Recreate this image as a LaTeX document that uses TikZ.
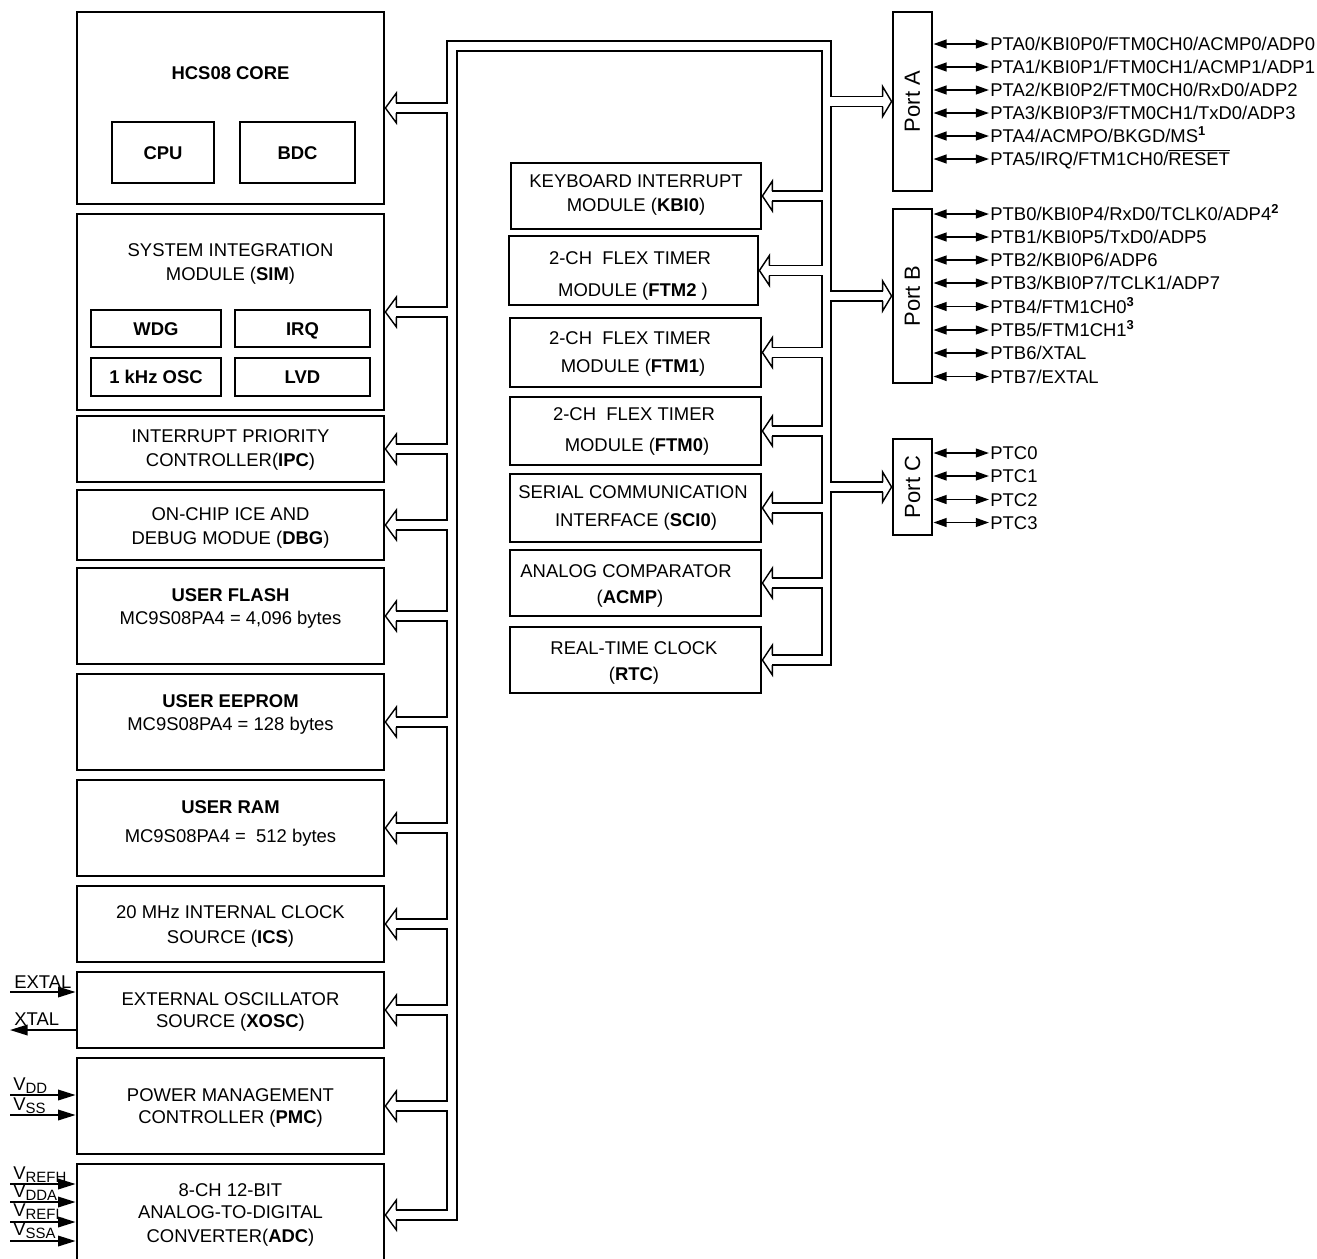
\documentclass[tikz,border=0pt]{standalone}
\usepackage{fontspec}
\setmainfont{Liberation Sans}
\usetikzlibrary{calc,fit,arrows.meta}
\newcommand\Vsub[1]{V\raisebox{-1.8pt}{\fontsize{8.5}{9}\selectfont #1}}
\begin{document}
\begin{tikzpicture}[x=0.02cm,y=-0.02cm,
  box/.style={draw,line width=1.6pt,inner sep=0pt},
  sbox/.style={draw,line width=1.4pt,inner sep=0pt},
  txt/.style={inner sep=0pt,text height=7.5pt,text depth=0pt,font=\fontsize{10.5}{12}\selectfont},
  btxt/.style={txt,font=\fontsize{10.5}{12}\selectfont\bfseries},
  pin/.style={txt,anchor=west},
  lbl/.style={inner sep=0pt,text height=7.5pt,text depth=0pt,font=\fontsize{10.5}{12}\selectfont,anchor=base west},
  plabel/.style={inner sep=0pt,font=\fontsize{12.5}{14}\selectfont,rotate=90},
  bus/.style={line width=0.8pt,line join=miter},
  pinarr/.style={line width=1pt,{Triangle[length=7.5pt,width=5pt]}-{Triangle[length=7.5pt,width=5pt]}},
  inarr/.style={line width=1pt,-{Triangle[length=10pt,width=6pt]}}
]
\useasboundingbox (0,0) rectangle (1317,1258);
\clip (0,0) rectangle (1317,1258);

% ---------- left column ----------
\node[box,fit={(77,12)(384,204)}] (hcs) {};
\node[box,fit={(77,214)(384,410)}] (sim) {};
\node[box,fit={(77,416)(384,482)}] (ipc) {};
\node[box,fit={(77,490)(384,560)}] (dbg) {};
\node[box,fit={(77,568)(384,664)}] (flash) {};
\node[box,fit={(77,674)(384,770)}] (eeprom) {};
\node[box,fit={(77,780)(384,876)}] (ram) {};
\node[box,fit={(77,886)(384,962)}] (ics) {};
\node[box,fit={(77,972)(384,1048)}] (xosc) {};
\node[box,fit={(77,1058)(384,1154)}] (pmc) {};
\node[box,fit={(77,1164)(384,1266)}] (adc) {};

\node[btxt] (hcsT) at (230.5,73) {HCS08 CORE};
\node[sbox,fit={(112,122)(214,183)}] (cpu) {};
\node[sbox,fit={(240,122)(355,183)}] (bdc) {};
\node[btxt] (cpuT) at (cpu.center) {CPU};
\node[btxt] (bdcT) at (bdc.center) {BDC};

\node[txt] (simT1) at (230.5,250) {SYSTEM INTEGRATION};
\node[txt] (simT2) at (230.5,274) {MODULE (\textbf{SIM})};
\node[sbox,fit={(91,310)(221,347)}] (wdg) {};
\node[sbox,fit={(235,310)(370,347)}] (irq) {};
\node[sbox,fit={(91,358)(221,396)}] (osc) {};
\node[sbox,fit={(235,358)(370,396)}] (lvd) {};
\node[btxt] (wdgT) at (wdg.center) {WDG};
\node[btxt] (irqT) at (irq.center) {IRQ};
\node[btxt] (oscT) at (osc.center) {1 kHz OSC};
\node[btxt] (lvdT) at (lvd.center) {LVD};

\node[txt] (ipcT1) at (230.5,436) {INTERRUPT PRIORITY};
\node[txt] (ipcT2) at (230.5,460) {CONTROLLER(\textbf{IPC})};
\node[txt] (dbgT1) at (230.5,514) {ON-CHIP ICE AND};
\node[txt] (dbgT2) at (230.5,538) {DEBUG MODUE (\textbf{DBG})};
\node[txt] (flT1) at (230.5,595) {\textbf{USER FLASH}};
\node[txt] (flT2) at (230.5,618) {MC9S08PA4 = 4,096 bytes};
\node[txt] (eeT1) at (230.5,701) {\textbf{USER EEPROM}};
\node[txt] (eeT2) at (230.5,724) {MC9S08PA4 = 128 bytes};
\node[txt] (raT1) at (230.5,807) {\textbf{USER RAM}};
\node[txt] (raT2) at (230.5,836) {MC9S08PA4 = \ 512 bytes};
\node[txt] (icT1) at (230.5,912) {20 MHz INTERNAL CLOCK};
\node[txt] (icT2) at (230.5,937) {SOURCE (\textbf{ICS})};
\node[txt] (xoT1) at (230.5,999) {EXTERNAL OSCILLATOR};
\node[txt] (xoT2) at (230.5,1021) {SOURCE (\textbf{XOSC})};
\node[txt] (pmT1) at (230.5,1095) {POWER MANAGEMENT};
\node[txt] (pmT2) at (230.5,1117) {CONTROLLER (\textbf{PMC})};
\node[txt] (adT1) at (230.5,1190) {8-CH 12-BIT};
\node[txt] (adT2) at (230.5,1212) {ANALOG-TO-DIGITAL};
\node[txt] (adT3) at (230.5,1236) {CONVERTER(\textbf{ADC})};

% ---------- middle column ----------
\node[box,fit={(511,163)(761,229)}] (kbi) {};
\node[box,fit={(509,236)(758,305)}] (ftm2) {};
\node[box,fit={(510,318)(761,387)}] (ftm1) {};
\node[box,fit={(510,397)(761,465)}] (ftm0) {};
\node[box,fit={(510,474)(761,542)}] (sci) {};
\node[box,fit={(510,550)(761,616)}] (acmp) {};
\node[box,fit={(510,627)(761,693)}] (rtc) {};

\node[txt] (kbT1) at (636,181) {KEYBOARD INTERRUPT};
\node[txt] (kbT2) at (636,205) {MODULE (\textbf{KBI0})};
\node[txt] (f2T1) at (630,258) {2-CH \ FLEX TIMER};
\node[txt] (f2T2) at (633,290) {MODULE (\textbf{FTM2} )};
\node[txt] (f1T1) at (630,338) {2-CH \ FLEX TIMER};
\node[txt] (f1T2) at (633,366) {MODULE (\textbf{FTM1})};
\node[txt] (f0T1) at (634,414) {2-CH \ FLEX TIMER};
\node[txt] (f0T2) at (637,445) {MODULE (\textbf{FTM0})};
\node[txt] (scT1) at (633,492) {SERIAL COMMUNICATION};
\node[txt] (scT2) at (636,520) {INTERFACE (\textbf{SCI0})};
\node[txt] (acT1) at (626,571) {ANALOG COMPARATOR};
\node[txt] (acT2) at (630,597) {(\textbf{ACMP})};
\node[txt] (rtT1) at (634,648) {REAL-TIME CLOCK};
\node[txt] (rtT2) at (634,674) {(\textbf{RTC})};

% ---------- ports ----------
\node[box,fit={(893,12)(932,191)}] (pA) {};
\node[box,fit={(893,209)(932,383)}] (pB) {};
\node[box,fit={(893,439)(932,535)}] (pC) {};
\node[plabel] (pAl) at (pA.center) {Port A};
\node[plabel] (pBl) at (pB.center) {Port B};
\node[plabel] (pCl) at (pC.center) {Port C};

\newcommand\pinrow[4]{%
  \node[pin] (#2) at (990,#3) {#4};
  \draw[pinarr] (#1.east|-#2.west) -- ($(#2.west)+(-1,0)$);}
\pinrow{pA}{a0}{44}{PTA0/KBI0P0/FTM0CH0/ACMP0/ADP0}
\pinrow{pA}{a1}{67}{PTA1/KBI0P1/FTM0CH1/ACMP1/ADP1}
\pinrow{pA}{a2}{90}{PTA2/KBI0P2/FTM0CH0/RxD0/ADP2}
\pinrow{pA}{a3}{113}{PTA3/KBI0P3/FTM0CH1/TxD0/ADP3}
\pinrow{pA}{a4}{136}{PTA4/ACMPO/BKGD/MS\textsuperscript{\textbf{1}}}
\pinrow{pA}{a5}{159}{PTA5/IRQ/FTM1CH0/$\overline{\mbox{RESET}}$}
\pinrow{pB}{b0}{214}{PTB0/KBI0P4/RxD0/TCLK0/ADP4\textsuperscript{\textbf{2}}}
\pinrow{pB}{b1}{237}{PTB1/KBI0P5/TxD0/ADP5}
\pinrow{pB}{b2}{260}{PTB2/KBI0P6/ADP6}
\pinrow{pB}{b3}{283}{PTB3/KBI0P7/TCLK1/ADP7}
\pinrow{pB}{b4}{306.5}{PTB4/FTM1CH0\textsuperscript{\textbf{3}}}
\pinrow{pB}{b5}{330}{PTB5/FTM1CH1\textsuperscript{\textbf{3}}}
\pinrow{pB}{b6}{353}{PTB6/XTAL}
\pinrow{pB}{b7}{376.5}{PTB7/EXTAL}
\pinrow{pC}{c0}{453}{PTC0}
\pinrow{pC}{c1}{476}{PTC1}
\pinrow{pC}{c2}{499.5}{PTC2}
\pinrow{pC}{c3}{522.5}{PTC3}

% ---------- bus ----------
\coordinate (LB) at (447,0);
\coordinate (MB) at (822,0);
\coordinate (PB) at (831,0);
\coordinate (TL1) at (447,41);
\coordinate (TR1) at (831,41);
\coordinate (TL2) at (457,51);
\coordinate (TR2) at (822,51);

\draw[bus] ($(hcs.east)+(11,-5)$) -| (TL1) -- (TR1) |- ($(pA.west)+(-9,-5)$);
\draw[bus] ($(adc.east)+(11,5)$) -| (TL2) -- (TR2) |- ($(kbi.east)+(10,-5)$);
\draw[bus] ($(rtc.east)+(10,5)$) -| ($(PB|-pC.west)+(0,5)$) -- ($(pC.west)+(-9,5)$);

\foreach \a/\b in {hcs/sim,sim/ipc,ipc/dbg,dbg/flash,flash/eeprom,eeprom/ram,ram/ics,ics/xosc,xosc/pmc,pmc/adc}
  \draw[bus] ($(\a.east)+(11,5)$) -| ($(LB|-\b.east)+(0,-5)$) -- ($(\b.east)+(11,-5)$);
\foreach \b in {hcs,sim,ipc,dbg,flash,eeprom,ram,ics,xosc,pmc,adc}
  \draw[bus] ($(\b.east)+(11,-5)$) -- ++(0,-10) -- (\b.east) -- ($(\b.east)+(11,15)$) -- ++(0,-10);

\foreach \a/\b in {kbi/ftm2,ftm2/ftm1,ftm1/ftm0,ftm0/sci,sci/acmp,acmp/rtc}
  \draw[bus] ($(\a.east)+(10,5)$) -| ($(MB|-\b.east)+(0,-5)$) -- ($(\b.east)+(10,-5)$);
\foreach \b in {kbi,ftm2,ftm1,ftm0,sci,acmp,rtc}
  \draw[bus] ($(\b.east)+(10,-5)$) -- ++(0,-10) -- (\b.east) -- ($(\b.east)+(10,15)$) -- ++(0,-10);

\foreach \a/\b in {pA/pB,pB/pC}
  \draw[bus] ($(\a.west)+(-9,5)$) -| ($(PB|-\b.west)+(0,-5)$) -- ($(\b.west)+(-9,-5)$);
\foreach \b in {pA,pB,pC}
  \draw[bus] ($(\b.west)+(-9,-5)$) -- ++(0,-10) -- (\b.west) -- ($(\b.west)+(-9,15)$) -- ++(0,-10);

% ---------- left inputs ----------
\node[lbl] (lEXTAL) at (14,988) {EXTAL};
\coordinate (sEXTAL) at (10,992);
\draw[inarr] (sEXTAL) -- (sEXTAL-|xosc.west);
\node[lbl] (lXTAL) at (14,1025) {XTAL};
\coordinate (sXTAL) at (10,1030);
\draw[inarr] (sXTAL-|xosc.west) -- (sXTAL);

\node[lbl] (lVDD) at (13,1090) {\Vsub{DD}};
\coordinate (sVDD) at (10,1095);
\draw[inarr] (sVDD) -- (sVDD-|pmc.west);
\node[lbl] (lVSS) at (13,1110) {\Vsub{SS}};
\coordinate (sVSS) at (10,1115);
\draw[inarr] (sVSS) -- (sVSS-|pmc.west);

\node[lbl] (lVREFH) at (13,1179) {\Vsub{REFH}};
\coordinate (sVREFH) at (10,1184);
\draw[inarr] (sVREFH) -- (sVREFH-|adc.west);
\node[lbl] (lVDDA) at (13,1197) {\Vsub{DDA}};
\coordinate (sVDDA) at (10,1202);
\draw[inarr] (sVDDA) -- (sVDDA-|adc.west);
\node[lbl] (lVREFL) at (13,1216) {\Vsub{REFL}};
\coordinate (sVREFL) at (10,1222);
\draw[inarr] (sVREFL) -- (sVREFL-|adc.west);
\node[lbl] (lVSSA) at (13,1235) {\Vsub{SSA}};
\coordinate (sVSSA) at (10,1241);
\draw[inarr] (sVSSA) -- (sVSSA-|adc.west);
\end{tikzpicture}
\end{document}
